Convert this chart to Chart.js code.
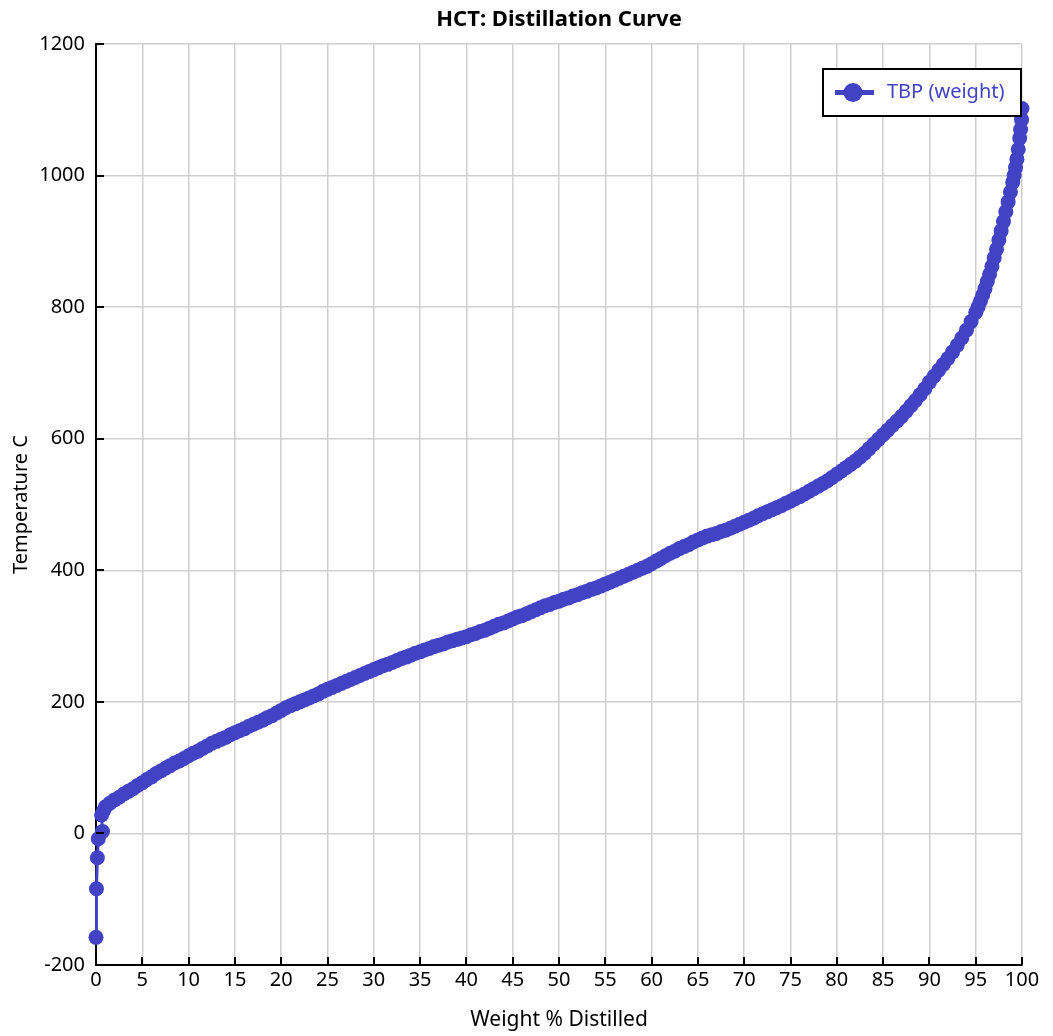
<!DOCTYPE html>
<html>
<head>
<meta charset="utf-8">
<title>HCT: Distillation Curve</title>
<script src="https://cdn.jsdelivr.net/npm/chart.js@4/dist/chart.umd.min.js"></script>
<style>
  html, body { margin: 0; padding: 0; background: #ffffff; }
  #wrap { width: 1053px; height: 1036px; }
</style>
</head>
<body>
<div id="wrap"><canvas id="chart" width="1053" height="1036"></canvas></div>
<script>
// Weight percent distilled (x) and true boiling point temperature, deg C (y)
const pctDistilled = [
  0, 0.05, 0.15, 0.25, 0.7, 0.6, 0.8, 1, 1.5, 2, 2.5, 3, 3.5, 4, 4.5, 5, 5.5, 6, 6.5, 7, 7.5, 8, 8.5, 9, 9.5,
  10, 10.5, 11, 11.5, 12, 12.5, 13, 13.5, 14, 14.5, 15, 15.5, 16, 16.5, 17, 17.5, 18, 18.5, 19, 19.5,
  20, 20.5, 21, 21.5, 22, 22.5, 23, 23.5, 24, 24.5, 25, 25.5, 26, 26.5, 27, 27.5, 28, 28.5, 29, 29.5,
  30, 30.5, 31, 31.5, 32, 32.5, 33, 33.5, 34, 34.5, 35, 35.5, 36, 36.5, 37, 37.5, 38, 38.5, 39, 39.5,
  40, 40.5, 41, 41.5, 42, 42.5, 43, 43.5, 44, 44.5, 45, 45.5, 46, 46.5, 47, 47.5, 48, 48.5, 49, 49.5,
  50, 50.5, 51, 51.5, 52, 52.5, 53, 53.5, 54, 54.5, 55, 55.5, 56, 56.5, 57, 57.5, 58, 58.5, 59, 59.5,
  60, 60.5, 61, 61.5, 62, 62.5, 63, 63.5, 64, 64.5, 65, 65.5, 66, 66.5, 67, 67.5, 68, 68.5, 69, 69.5,
  70, 70.5, 71, 71.5, 72, 72.5, 73, 73.5, 74, 74.5, 75, 75.5, 76, 76.5, 77, 77.5, 78, 78.5, 79, 79.5,
  80, 80.5, 81, 81.5, 82, 82.5, 83, 83.5, 84, 84.5, 85, 85.5, 86, 86.5, 87, 87.5, 88, 88.5, 89, 89.5,
  90, 90.5, 91, 91.5, 92, 92.5, 93, 93.5, 94, 94.5, 95, 95.25, 95.5, 95.75, 96, 96.25, 96.5, 96.75,
  97, 97.25, 97.5, 97.75, 98, 98.25, 98.5, 98.75, 99, 99.15, 99.3, 99.45, 99.6, 99.75, 99.85, 99.95, 100
];
const tbpWeight = [
  -158, -84, -37, -8, 3, 28, 34, 40, 46, 51, 55, 60, 64, 68, 73, 77, 82, 86, 91, 95, 99, 103, 107, 110, 114,
  118, 122, 125, 129, 133, 137, 140, 143, 146, 150, 153, 156, 159, 163, 166, 169, 172, 176, 179, 183,
  187, 191, 194, 197, 200, 203, 206, 209, 212, 216, 219, 222, 225, 228, 231, 234, 237, 240, 243, 246,
  249, 252, 255, 257, 260, 263, 266, 268, 271, 274, 276, 279, 281, 284, 286, 288, 291, 293, 295, 297,
  299, 302, 304, 307, 309, 312, 315, 318, 320, 323, 326, 329, 331, 334, 337, 340, 343, 346, 348, 351,
  353, 356, 358, 361, 363, 366, 368, 371, 373, 376, 379, 382, 385, 388, 391, 394, 397, 400, 403, 406,
  410, 414, 418, 422, 426, 429, 433, 436, 439, 443, 446, 449, 452, 454, 456, 459, 461, 464, 467, 470,
  473, 476, 479, 483, 486, 489, 492, 495, 498, 502, 505, 509, 512, 516, 520, 524, 528, 532, 536, 541,
  546, 551, 556, 561, 566, 572, 578, 585, 592, 599, 606, 613, 620, 627, 634, 642, 650, 658, 667, 676,
  686, 695, 704, 713, 722, 732, 742, 753, 765, 778, 792, 800, 809, 818, 828, 839, 850, 862,
  875, 888, 902, 916, 930, 945, 960, 975, 990, 1000, 1012, 1025, 1040, 1057, 1070, 1085, 1102
];
const xTickStep = 5;
const yTickStep = 200;
const seriesName = 'TBP (weight)';
const chartTitle = 'HCT: Distillation Curve';
const xAxisTitle = 'Weight % Distilled';
const yAxisTitle = 'Temperature C';

const SERIES_COLOR = '#4242c4';
const FONT = "'Noto Sans', 'Open Sans', sans-serif";

const points = pctDistilled.map((x, i) => ({ x: x, y: tbpWeight[i] }));

// Title, inward tick marks and the boxed legend drawn on top of the plot
const decorations = {
  id: 'decorations',
  afterDraw(chart) {
    const ctx = chart.ctx;
    const area = chart.chartArea;
    const xs = chart.scales.x;
    const ys = chart.scales.y;

    ctx.save();
    // title centred over the plot area
    ctx.fillStyle = '#000';
    ctx.font = 'bold 22px ' + FONT;
    ctx.textAlign = 'center';
    ctx.textBaseline = 'middle';
    ctx.fillText(chartTitle, (area.left + area.right) / 2, 20);

    // tick marks pointing into the plot
    ctx.strokeStyle = '#000';
    ctx.lineWidth = 2;
    ctx.beginPath();
    xs.ticks.forEach(t => {
      const px = Math.round(xs.getPixelForValue(t.value));
      ctx.moveTo(px, area.bottom);
      ctx.lineTo(px, area.bottom - 8);
    });
    ys.ticks.forEach(t => {
      const py = Math.round(ys.getPixelForValue(t.value));
      ctx.moveTo(area.left, py);
      ctx.lineTo(area.left + 8, py);
    });
    ctx.stroke();

    // legend box
    const ds = chart.data.datasets[0];
    const bx = 823, by = 69, bw = 198, bh = 47;
    ctx.fillStyle = '#fff';
    ctx.fillRect(bx, by, bw, bh);
    ctx.strokeStyle = '#000';
    ctx.lineWidth = 2;
    ctx.strokeRect(bx, by, bw, bh);
    const cy = by + bh / 2;
    ctx.strokeStyle = ds.borderColor;
    ctx.lineWidth = 5;
    ctx.beginPath();
    ctx.moveTo(bx + 12, cy);
    ctx.lineTo(bx + 51, cy);
    ctx.stroke();
    ctx.fillStyle = ds.borderColor;
    ctx.beginPath();
    ctx.arc(bx + 30, cy, 9.5, 0, Math.PI * 2);
    ctx.fill();
    ctx.font = '20px ' + FONT;
    ctx.textAlign = 'left';
    ctx.textBaseline = 'middle';
    ctx.fillText(ds.label, bx + 64, cy);
    ctx.restore();
  }
};

new Chart(document.getElementById('chart'), {
  type: 'scatter',
  data: {
    datasets: [{
      label: seriesName,
      data: points,
      showLine: true,
      borderColor: SERIES_COLOR,
      backgroundColor: SERIES_COLOR,
      borderWidth: 3,
      pointRadius: 7.5,
      pointHoverRadius: 7.5,
      pointBorderWidth: 0,
      pointBackgroundColor: SERIES_COLOR,
      tension: 0,
      clip: false
    }]
  },
  options: {
    responsive: false,
    animation: false,
    events: [],
    layout: { padding: { top: 44, right: 31, bottom: 0, left: 0 } },
    plugins: {
      legend: { display: false },
      title: { display: false },
      tooltip: { enabled: false }
    },
    scales: {
      x: {
        type: 'linear',
        min: 0,
        max: 100,
        afterFit(scale) { scale.height = 71; },
        ticks: {
          stepSize: xTickStep,
          color: '#000',
          font: { family: FONT, size: 20 },
          padding: 3,
          maxRotation: 0,
          callback: v => String(v)
        },
        grid: { color: '#cfcfcf', lineWidth: 1.5, drawTicks: false, tickLength: 0 },
        border: { display: true, color: '#000', width: 2 },
        title: {
          display: true,
          text: xAxisTitle,
          color: '#000',
          font: { family: FONT, size: 21 },
          padding: { top: 0, bottom: 3 }
        }
      },
      y: {
        type: 'linear',
        min: -200,
        max: 1200,
        afterFit(scale) { scale.width = 96; },
        ticks: {
          stepSize: yTickStep,
          color: '#000',
          font: { family: FONT, size: 20 },
          padding: 11,
          callback: v => String(v)
        },
        grid: { color: '#cfcfcf', lineWidth: 1.5, drawTicks: false, tickLength: 0 },
        border: { display: true, color: '#000', width: 2 },
        title: {
          display: true,
          text: yAxisTitle,
          color: '#000',
          font: { family: FONT, size: 20 },
          padding: { top: 9, bottom: 0 }
        }
      }
    }
  },
  plugins: [decorations]
});
</script>
</body>
</html>
